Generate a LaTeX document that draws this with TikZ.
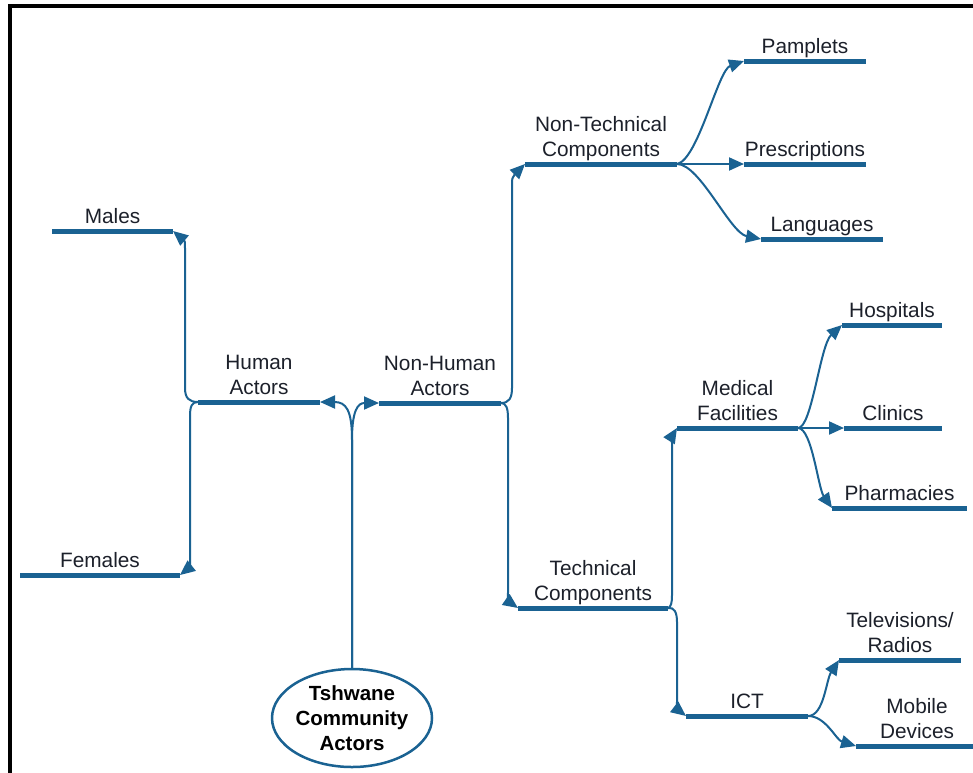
\documentclass[tikz,border=0pt]{standalone}
\usepackage{fontspec}
\setmainfont{Liberation Sans}
\usetikzlibrary{arrows.meta,shapes.geometric}
\definecolor{linkblue}{RGB}{26,98,146}
\definecolor{labelink}{RGB}{28,32,42}

\begin{document}
\begin{tikzpicture}[x=1pt,y=-1pt,
  leaf/.style={anchor=south, inner xsep=0pt, inner ysep=8pt, outer sep=0pt,
    text depth=0pt, minimum width=#1, align=center, text=labelink,
    font=\fontsize{20.8}{24.5}\selectfont},
  itembar/.style={draw=linkblue, line width=5pt},
  connector/.style={draw=linkblue, line width=2pt,
    -{Triangle[length=15pt,width=13pt]}},
  hub/.style={ellipse, draw=linkblue, line width=2.5pt, minimum width=160pt,
    minimum height=98pt, inner sep=0pt, outer sep=0pt, align=center,
    font=\bfseries\fontsize{20.5}{25}\selectfont}
]
\clip (0,0) rectangle (973,772);
\fill[white] (0,0) rectangle (973,772);

% frame
\draw[line width=4pt] (10,790) -- (10,6) -- (990,6);

% root
\node[hub] (root) at (352,718) {Tshwane\\Community\\Actors};

% labelled bars
\node[leaf=122] (ha)    at (259,402)   {Human\\Actors};
\node[leaf=122] (nh)    at (440,403)   {Non-Human\\Actors};
\node[leaf=121] (males) at (112.5,231) {Males};
\node[leaf=160] (fem)   at (100,575)   {Females};
\node[leaf=152] (ntc)   at (601,164)   {Non-Technical\\Components};
\node[leaf=150] (tc)    at (593,608)   {Technical\\Components};
\node[leaf=122] (pam)   at (805,61)    {Pamplets};
\node[leaf=122] (pre)   at (805,164)   {Prescriptions};
\node[leaf=122] (lang)  at (822,239)   {Languages};
\node[leaf=121] (mf)    at (737.5,428) {Medical\\Facilities};
\node[leaf=100] (hosp)  at (892,325)   {Hospitals};
\node[leaf=98]  (clin)  at (893,428)   {Clinics};
\node[leaf=135] (pharm) at (899.5,508) {Pharmacies};
\node[leaf=122] (ict)   at (747,716)   {ICT};
\node[leaf=122] (tv)    at (900,660)   {Televisions/\\Radios};
\node[leaf=122] (mob)   at (917,746)   {Mobile\\Devices};

% root to the two actor groups
\draw[connector] (root.north) -- (352,440) .. controls (352,410) and (346,402) .. (ha.south east);
\draw[connector] (root.north) -- (352,440) .. controls (352,410) and (358,403) .. (nh.south west);

% human actors
\draw[connector] (ha.south west) .. controls (189,402) and (185,398) .. (185,388)
  -- (185,252) .. controls (185,241) .. (males.south east);
\draw[connector] (ha.south west) .. controls (192,402) and (190,406) .. (190,416)
  -- (190,556) .. controls (190,567) .. (fem.south east);

% non-human actors
\draw[connector] (nh.south east) .. controls (509,403) and (512,398) .. (512,388)
  -- (512,192) .. controls (512,177) .. (ntc.south west);
\draw[connector] (nh.south east) .. controls (506,403) and (508,408) .. (508,418)
  -- (508,588) .. controls (508,601) .. (tc.south west);

% non-technical components
\draw[connector] (ntc.south east) .. controls (698,160) and (718,70) .. (pam.south west);
\draw[connector] (ntc.south east) -- (pre.south west);
\draw[connector] (ntc.south east) .. controls (700,164) and (730,233) .. (lang.south west);

% technical components
\draw[connector] (tc.south east) .. controls (671,607) and (672,603) .. (672,595)
  -- (672,447) .. controls (672,436) .. (mf.south west);
\draw[connector] (tc.south east) .. controls (674,607) and (677,612) .. (677,622)
  -- (677,698) .. controls (677,709) .. (ict.south west);

% medical facilities
\draw[connector] (mf.south east) .. controls (812,428) and (820,345) .. (hosp.south west);
\draw[connector] (mf.south east) -- (clin.south west);
\draw[connector] (mf.south east) .. controls (812,428) and (818,488) .. (pharm.south west);

% ICT
\draw[connector] (ict.south east) .. controls (824,716) and (826,680) .. (tv.south west);
\draw[connector] (ict.south east) .. controls (826,716) and (836,740) .. (mob.south west);

% bars under the labels
\foreach \n in {ha,nh,males,fem,ntc,tc,pam,pre,lang,mf,hosp,clin,pharm,ict,tv,mob}
  \draw[itembar] (\n.south west) -- (\n.south east);
\end{tikzpicture}
\end{document}
